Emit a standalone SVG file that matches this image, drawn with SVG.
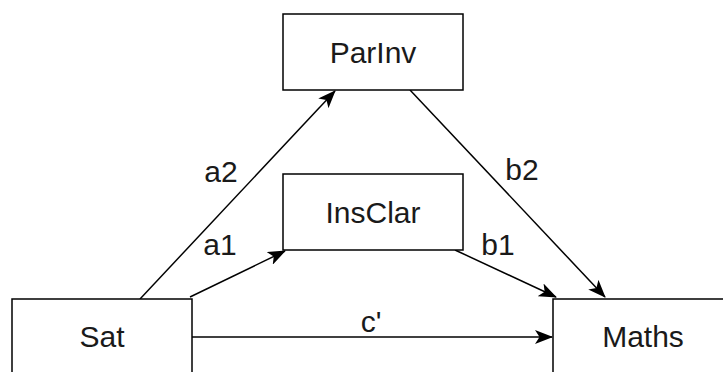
<svg xmlns="http://www.w3.org/2000/svg" width="723" height="372" viewBox="0 0 723 372">
<style>
.box{fill:#fff;stroke:#000;stroke-width:1.5}
.lbl{font-family:"Liberation Sans",Arial,Helvetica,sans-serif;font-size:30px;fill:#1a1a1a;text-anchor:middle}
.edge{fill:none;stroke:#000;stroke-width:1.5;marker-end:url(#arr)}
</style>
<defs>
<marker id="arr" viewBox="0 0 18 14" refX="17" refY="7" markerWidth="18" markerHeight="14" markerUnits="userSpaceOnUse" orient="auto">
<path d="M0,0 L18,7 L0,14 L4.5,7 Z" fill="#000"/>
</marker>
</defs>
<rect width="723" height="372" fill="#fff"/>
<g id="connectors">
<path class="edge" d="M140,299 L335,91"/>
<path class="edge" d="M190,297 L285,251"/>
<path class="edge" d="M192,337 L552,337"/>
<path class="edge" d="M410,90 L605,297"/>
<path class="edge" d="M455,250 L556,297"/>
<text class="lbl" x="221" y="182">a2</text>
<text class="lbl" x="220" y="255">a1</text>
<text class="lbl" x="522" y="180">b2</text>
<text class="lbl" x="498" y="255">b1</text>
<text class="lbl" x="371" y="332">c'</text>
</g>
<g id="ParInv">
<rect class="box" x="283" y="14" width="180" height="76"/>
<text class="lbl" x="373" y="63">ParInv</text>
</g>
<g id="InsClar">
<rect class="box" x="283" y="174" width="180" height="76"/>
<text class="lbl" x="373" y="223">InsClar</text>
</g>
<g id="Sat">
<rect class="box" x="12" y="299" width="180" height="76"/>
<text class="lbl" x="102" y="347">Sat</text>
</g>
<g id="Maths">
<rect class="box" x="553" y="299" width="180" height="76"/>
<text class="lbl" x="643" y="347">Maths</text>
</g>
</svg>
